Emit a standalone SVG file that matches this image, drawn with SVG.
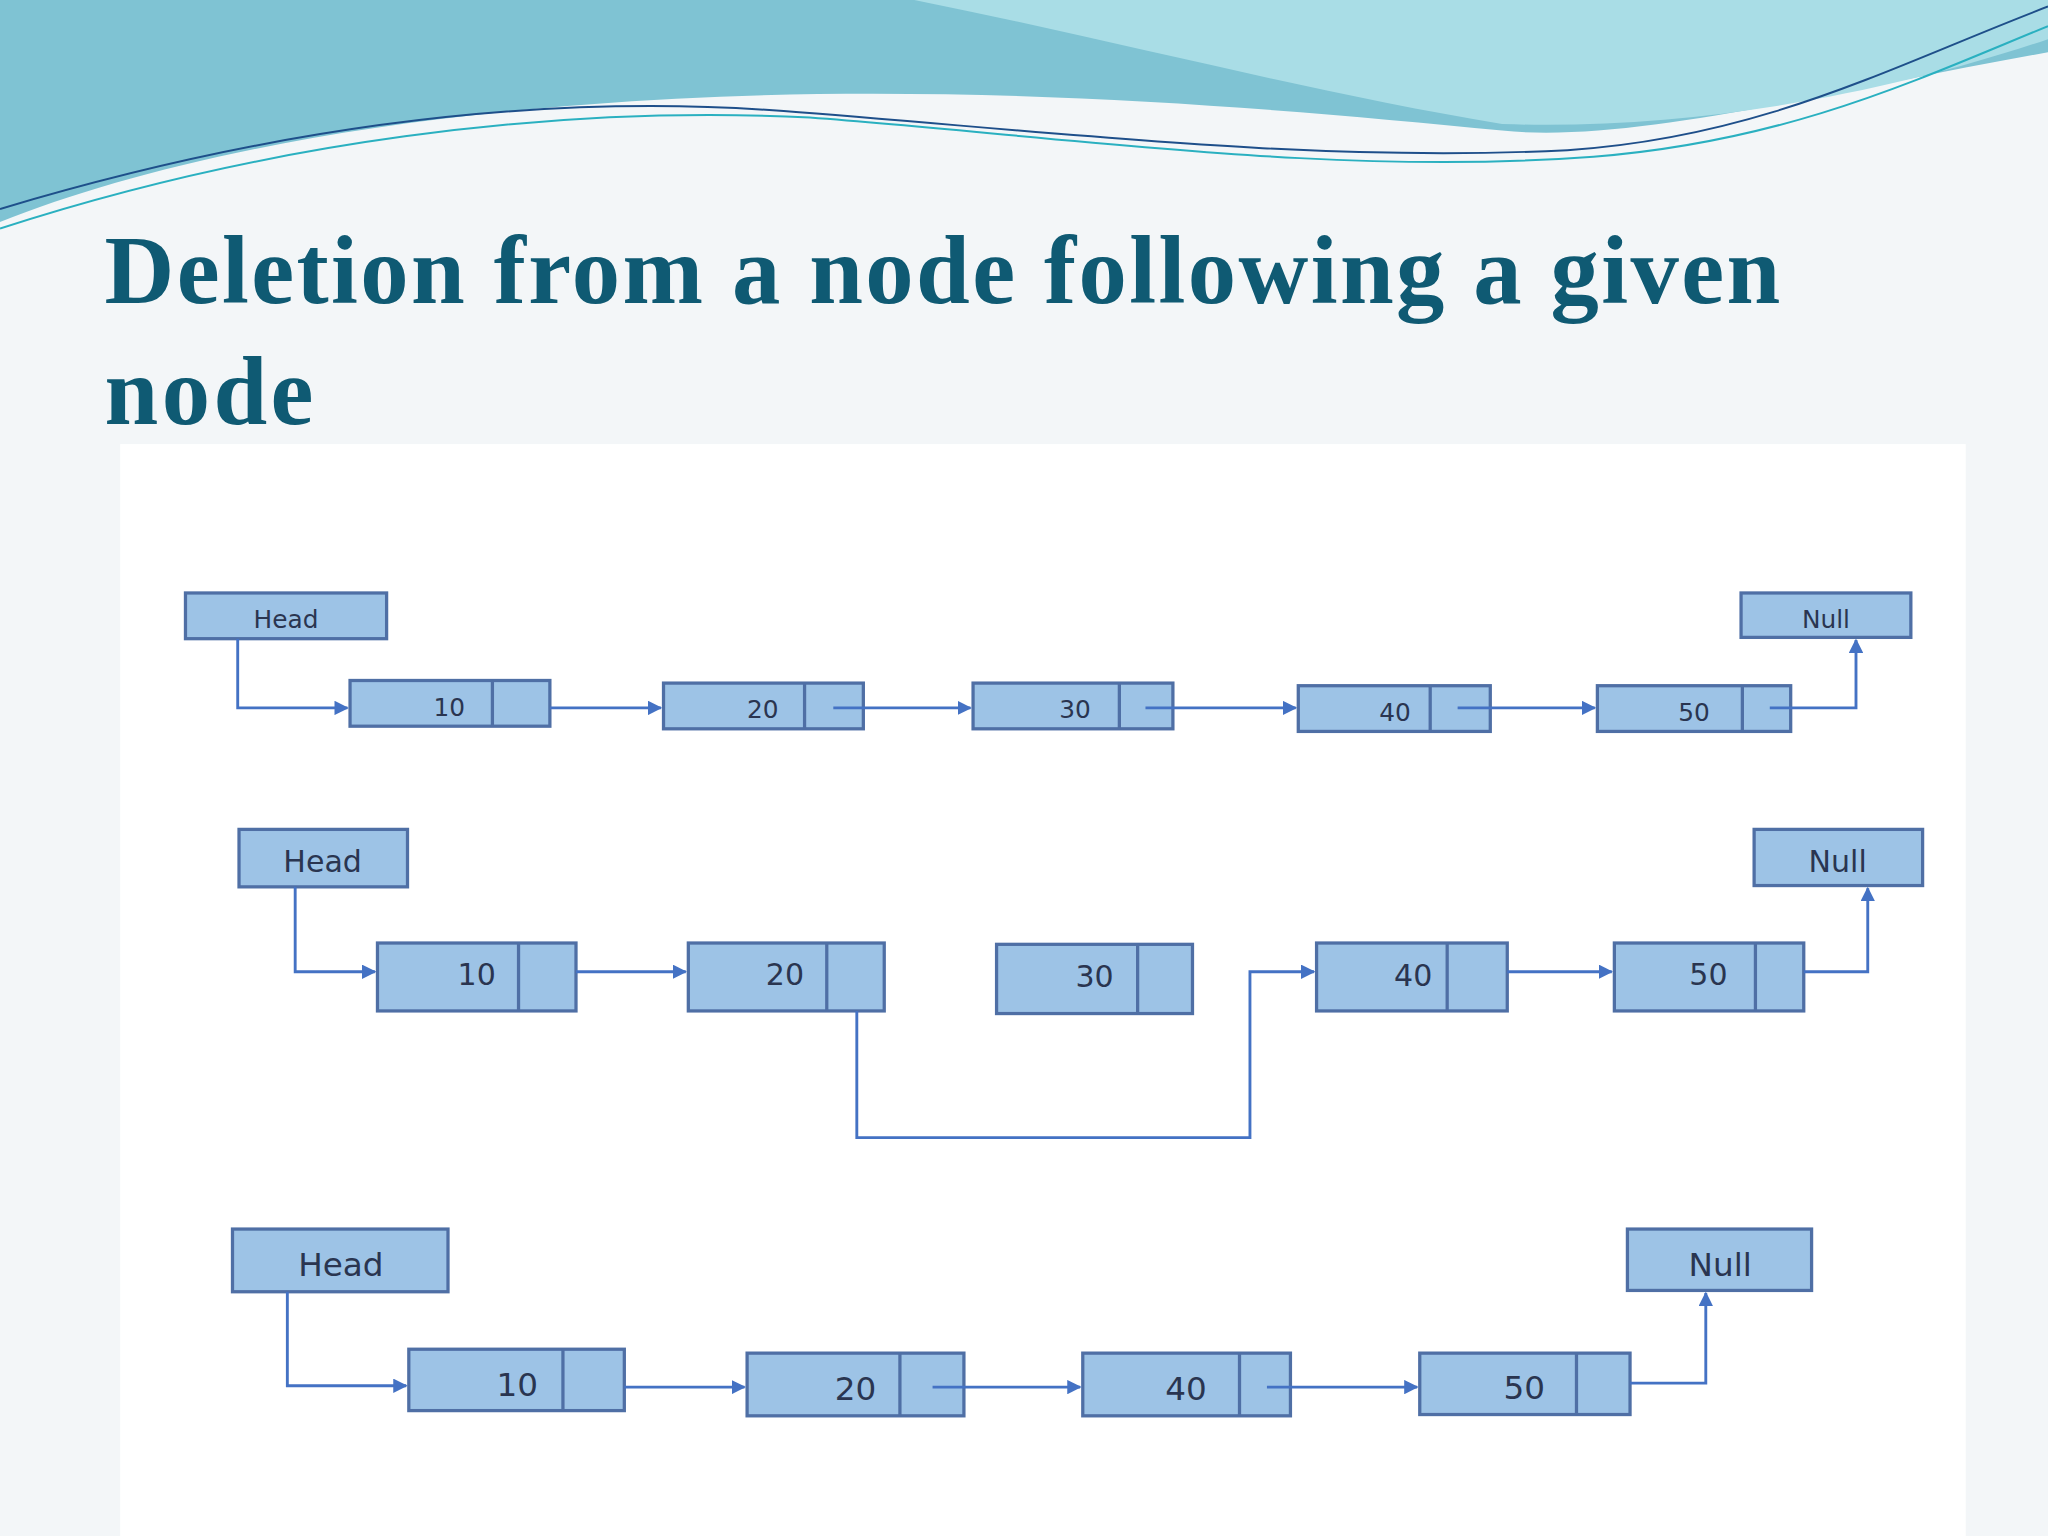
<svg xmlns="http://www.w3.org/2000/svg" width="2048" height="1536" viewBox="0 0 2048 1536">
<style>
.b{fill:#9dc3e6;stroke:#4f6fa5;stroke-width:2.5}
.d{stroke:#4f6fa5;stroke-width:2.5}
.c{fill:none;stroke:#4472c4;stroke-width:2.2}
.t{font-family:"DejaVu Sans",sans-serif;fill:#2a3550;text-anchor:middle}
</style>
<defs><marker id="a" viewBox="0 0 10 10" refX="9" refY="5" markerWidth="5" markerHeight="5" orient="auto"><path d="M0,0L10,5L0,10z" fill="#4472c4"/></marker></defs>
<g transform="scale(1.30612)">
<rect width="1568" height="1176" fill="#f3f6f8"/>
<path d="M0,0H1568V40C1400,70 1250,110 1150,100C950,80 700,60 450,80C250,95 100,130 0,170Z" fill="#7fc3d3"/>
<path d="M700,0H1568V30C1450,70 1300,100 1150,95C1000,70 850,30 700,0Z" fill="#a9dde6"/>
<path d="M0,160C200,100 400,70 600,85C800,100 1000,125 1200,115C1350,105 1450,50 1568,5" fill="none" stroke="#1e4f8a" stroke-width="1.5"/>
<path d="M0,175C200,110 420,80 620,90C820,105 1020,135 1220,120C1370,108 1470,60 1568,20" fill="none" stroke="#2ab0c0" stroke-width="1.5"/>
<text x="80" y="232" font-family="Liberation Serif,serif" font-weight="bold" font-size="74" fill="#0f5a73" textLength="1283" lengthAdjust="spacing">Deletion from a node following a given</text>
<text x="80" y="325" font-family="Liberation Serif,serif" font-weight="bold" font-size="74" fill="#0f5a73" textLength="160" lengthAdjust="spacing">node</text>
<rect x="92" y="340" width="1413" height="836" fill="#ffffff"/>
<g id="r1head"><rect class="b" x="142" y="454" width="154" height="35"/><text class="t" x="219" y="481" font-size="19">Head</text></g>
<g id="r1n10"><rect class="b" x="268" y="521" width="153" height="35"/><line class="d" x1="377" y1="521" x2="377" y2="556"/><text class="t" x="344" y="548" font-size="19">10</text></g>
<g id="r1n20"><rect class="b" x="508" y="523" width="153" height="35"/><line class="d" x1="616" y1="523" x2="616" y2="558"/><text class="t" x="584" y="550" font-size="19">20</text></g>
<g id="r1n30"><rect class="b" x="745" y="523" width="153" height="35"/><line class="d" x1="857" y1="523" x2="857" y2="558"/><text class="t" x="823" y="550" font-size="19">30</text></g>
<g id="r1n40"><rect class="b" x="994" y="525" width="147" height="35"/><line class="d" x1="1095" y1="525" x2="1095" y2="560"/><text class="t" x="1068" y="552" font-size="19">40</text></g>
<g id="r1n50"><rect class="b" x="1223" y="525" width="148" height="35"/><line class="d" x1="1334" y1="525" x2="1334" y2="560"/><text class="t" x="1297" y="552" font-size="19">50</text></g>
<g id="r1null"><rect class="b" x="1333" y="454" width="130" height="34"/><text class="t" x="1398" y="481" font-size="19">Null</text></g>
<g id="r2head"><rect class="b" x="183" y="635" width="129" height="44"/><text class="t" x="247" y="668" font-size="23">Head</text></g>
<g id="r2n10"><rect class="b" x="289" y="722" width="152" height="52"/><line class="d" x1="397" y1="722" x2="397" y2="774"/><text class="t" x="365" y="754" font-size="23">10</text></g>
<g id="r2n20"><rect class="b" x="527" y="722" width="150" height="52"/><line class="d" x1="633" y1="722" x2="633" y2="774"/><text class="t" x="601" y="754" font-size="23">20</text></g>
<g id="r2n30"><rect class="b" x="763" y="723" width="150" height="53"/><line class="d" x1="871" y1="723" x2="871" y2="776"/><text class="t" x="838" y="756" font-size="23">30</text></g>
<g id="r2n40"><rect class="b" x="1008" y="722" width="146" height="52"/><line class="d" x1="1108" y1="722" x2="1108" y2="774"/><text class="t" x="1082" y="755" font-size="23">40</text></g>
<g id="r2n50"><rect class="b" x="1236" y="722" width="145" height="52"/><line class="d" x1="1344" y1="722" x2="1344" y2="774"/><text class="t" x="1308" y="754" font-size="23">50</text></g>
<g id="r2null"><rect class="b" x="1343" y="635" width="129" height="43"/><text class="t" x="1407" y="668" font-size="23">Null</text></g>
<g id="r3head"><rect class="b" x="178" y="941" width="165" height="48"/><text class="t" x="261" y="977" font-size="25">Head</text></g>
<g id="r3n10"><rect class="b" x="313" y="1033" width="165" height="47"/><line class="d" x1="431" y1="1033" x2="431" y2="1080"/><text class="t" x="396" y="1069" font-size="25">10</text></g>
<g id="r3n20"><rect class="b" x="572" y="1036" width="166" height="48"/><line class="d" x1="689" y1="1036" x2="689" y2="1084"/><text class="t" x="655" y="1072" font-size="25">20</text></g>
<g id="r3n40"><rect class="b" x="829" y="1036" width="159" height="48"/><line class="d" x1="949" y1="1036" x2="949" y2="1084"/><text class="t" x="908" y="1072" font-size="25">40</text></g>
<g id="r3n50"><rect class="b" x="1087" y="1036" width="161" height="47"/><line class="d" x1="1207" y1="1036" x2="1207" y2="1083"/><text class="t" x="1167" y="1071" font-size="25">50</text></g>
<g id="r3null"><rect class="b" x="1246" y="941" width="141" height="47"/><text class="t" x="1317" y="977" font-size="25">Null</text></g>
<g id="connectors">
<path class="c" d="M182,489V542H266" marker-end="url(#a)"/>
<path class="c" d="M421,542H506" marker-end="url(#a)"/>
<path class="c" d="M638,542H743" marker-end="url(#a)"/>
<path class="c" d="M877,542H992" marker-end="url(#a)"/>
<path class="c" d="M1116,542H1221" marker-end="url(#a)"/>
<path class="c" d="M1355,542H1421V490" marker-end="url(#a)"/>
<path class="c" d="M226,679V744H287" marker-end="url(#a)"/>
<path class="c" d="M441,744H525" marker-end="url(#a)"/>
<path class="c" d="M656,774V871H957V744H1006" marker-end="url(#a)"/>
<path class="c" d="M1154,744H1234" marker-end="url(#a)"/>
<path class="c" d="M1381,744H1430V680" marker-end="url(#a)"/>
<path class="c" d="M220,989V1061H311" marker-end="url(#a)"/>
<path class="c" d="M478,1062H570" marker-end="url(#a)"/>
<path class="c" d="M714,1062H827" marker-end="url(#a)"/>
<path class="c" d="M970,1062H1085" marker-end="url(#a)"/>
<path class="c" d="M1248,1059H1306V990" marker-end="url(#a)"/>
</g>
</g>
</svg>
